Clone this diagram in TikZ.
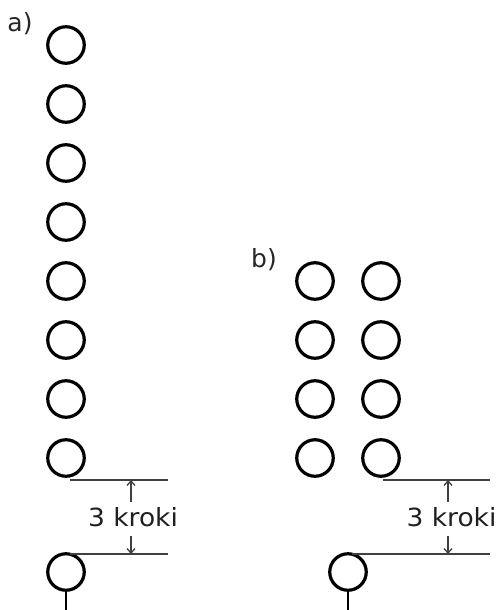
\documentclass[tikz,border=0pt]{standalone}
\usepackage{fontspec}
\setmainfont{DejaVu Sans}
\newfontfamily\lblfont[FakeStretch=1.06]{DejaVu Sans}
\usetikzlibrary{arrows.meta}
\begin{document}
\begin{tikzpicture}[x=1pt,y=-1pt,
  ring/.style={draw=black,circle,line width=3.2pt,minimum size=36.5pt,inner sep=0pt},
  dimline/.style={draw=black!75,line width=1.3pt},
  arr/.style={draw=black!75,line width=1.3pt,-{Straight Barb[length=4.5pt,width=8pt]}},
  stem/.style={draw=black,line width=2.5pt},
  lbl/.style={inner sep=0pt,font=\fontsize{25}{27}\selectfont\lblfont,text=black!88},
  tag/.style={inner sep=0pt,font=\fontsize{25}{27}\selectfont,text=black!85}]
\useasboundingbox (0,0) rectangle (502,610);
% labels
\node[tag] (la) at (20,24) {a)};
\node[tag] (lb) at (264,260) {b)};
% column a
\foreach \i/\y in {1/45,2/104,3/163,4/222,5/281,6/340,7/399,8/458}
  \node[ring] (a\i) at (66,\y) {};
\node[ring] (a9) at (66,572) {};
% column b
\foreach \i/\y in {1/281,2/340,3/399,4/458}{
  \node[ring] (bl\i) at (315,\y) {};
  \node[ring] (br\i) at (381,\y) {};
}
\node[ring] (b9) at (348,572) {};
% stems
\coordinate (sa) at (66,612);
\coordinate (sb) at (348,612);
\draw[stem] (a9.south) -- (sa);
\draw[stem] (b9.south) -- (sb);
% dimension lines a
\coordinate (a1s) at (70,480);
\coordinate (a1e) at (168,480);
\coordinate (a2s) at (70,554);
\coordinate (a2e) at (168,554);
\draw[dimline] (a1s) -- (a1e);
\draw[dimline] (a2s) -- (a2e);
\node[lbl] (ka) at (133,517) {3 kroki};
\coordinate (ua) at (131,480);
\coordinate (ut) at (131,502);
\coordinate (da) at (131,554);
\coordinate (dt) at (131,536);
\draw[arr] (ut) -- (ua);
\draw[arr] (dt) -- (da);
% dimension lines b
\coordinate (b1s) at (383,480);
\coordinate (b1e) at (490,480);
\coordinate (b2s) at (352,554);
\coordinate (b2e) at (490,554);
\draw[dimline] (b1s) -- (b1e);
\draw[dimline] (b2s) -- (b2e);
\node[lbl] (kb) at (451.5,517) {3 kroki};
\coordinate (ub) at (448,480);
\coordinate (vt) at (448,502);
\coordinate (db) at (448,554);
\coordinate (wt) at (448,536);
\draw[arr] (vt) -- (ub);
\draw[arr] (wt) -- (db);
\end{tikzpicture}
\end{document}
